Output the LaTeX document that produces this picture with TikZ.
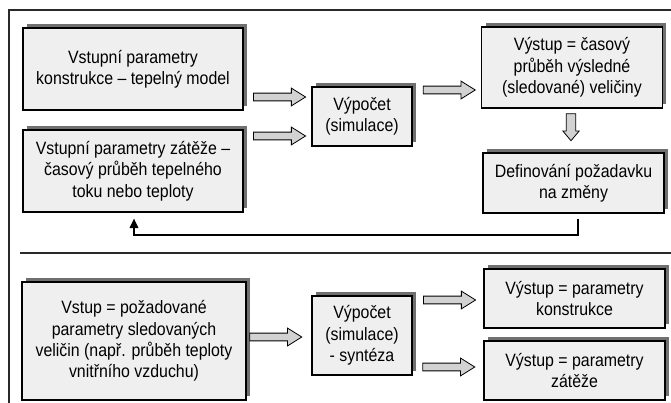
\documentclass[tikz,border=0pt]{standalone}
\usepackage{fontspec}
\setmainfont{Liberation Sans}[FakeStretch=0.89]
\usepackage{xcolor}
\usepackage{tikz}
\usetikzlibrary{calc,arrows.meta,shapes.arrows}
\definecolor{boxfill}{HTML}{EFEFEF}
\definecolor{boxshade}{HTML}{707070}
\definecolor{arrowfill}{HTML}{D2D2D2}
\definecolor{frameink}{HTML}{2A2A2A}

\begin{document}
\begin{tikzpicture}[
    x=0.75pt, y=-0.75pt,
    every node/.style={font=\fontsize{13.4}{16}\selectfont},
    stage/.style={draw=black, line width=1pt, fill=boxfill, align=center, inner sep=0pt,
      preaction={fill=boxshade, draw=none, transform canvas={shift={(3pt,3pt)}}}},
    keystage/.style={stage, line width=2.2pt},
    blockarrow/.style={single arrow, draw=black, line width=0.6pt, fill=arrowfill,
      inner xsep=0pt, inner ysep=2.6pt, single arrow head extend=3.75pt,
      single arrow tip angle=64, minimum height=39pt, anchor=tip},
    feedback/.style={-{Triangle[length=7pt, width=6.5pt]}, line width=0.9pt},
  ]
  \useasboundingbox (0,0) rectangle (671,403);
  \draw[frameink, line width=1pt] (671,10) -- (9,10) -- (9,403);
  \draw[frameink, line width=1pt] (20,253) -- (671,253);

  \node[stage, minimum width=165pt, minimum height=61.5pt] (A) at (133,69)
    {Vstupní parametry\\konstrukce – tepelný model};
  \node[stage, minimum width=165pt, minimum height=61.5pt] (B) at (133,171)
    {Vstupní parametry zátěže –\\časový průběh tepelného\\toku nebo teploty};
  \node[stage, minimum width=75pt, minimum height=44.25pt] (C) at (362,116.5)
    {Výpočet\\(simulace)};
  \node[stage, minimum width=135.5pt, minimum height=60.75pt] (D) at (572,67.5)
    {Výstup = časový\\průběh výsledné\\(sledované) veličiny};
  \node[stage, minimum width=135.75pt, minimum height=45pt] (E) at (573.5,183)
    {Definování požadavku\\na změny};

  \node[blockarrow] (AC) at ($(C.west)+(-5,-19.5)$) {};
  \node[blockarrow] (BC) at ($(C.west)+(-5,19.5)$) {};
  \node[blockarrow] (CD) at ($(D.west)+(-5,22.5)$) {};
  \node[blockarrow, rotate=-90, minimum height=20.25pt, inner ysep=3.2pt,
    single arrow head extend=2.6pt, single arrow tip angle=80] (DE) at ($(E.north)+(-2.5,-11)$) {};

  \coordinate (fbR) at (578,235);
  \coordinate (fbL) at (134,235);
  \draw[feedback] ($(E.south -| fbR)+(0,5)$) -- (fbR) -- (fbL) -- ($(B.south -| fbL)+(0,6)$);

  \node[keystage, minimum width=168pt, minimum height=88.5pt] (F) at (134,341)
    {Vstup = požadované\\parametry sledovaných\\veličin (např. průběh teploty\\vnitřního vzduchu)};
  \node[keystage, minimum width=75pt, minimum height=59.25pt] (G) at (362,335.5)
    {Výpočet\\(simulace)\\- syntéza};
  \node[stage, minimum width=135.75pt, minimum height=44.25pt] (H) at (574.5,298.5)
    {Výstup = parametry\\konstrukce};
  \node[keystage, minimum width=135.75pt, minimum height=44.25pt] (I) at (574.5,370.5)
    {Výstup = parametry\\zátěže};

  \node[blockarrow] (FG) at ($(G.west)+(-8,1.5)$) {};
  \node[blockarrow] (GH) at ($(H.west)+(-7,1.5)$) {};
  \node[blockarrow] (GI) at ($(I.west)+(-7,-3.5)$) {};
\end{tikzpicture}
\end{document}
